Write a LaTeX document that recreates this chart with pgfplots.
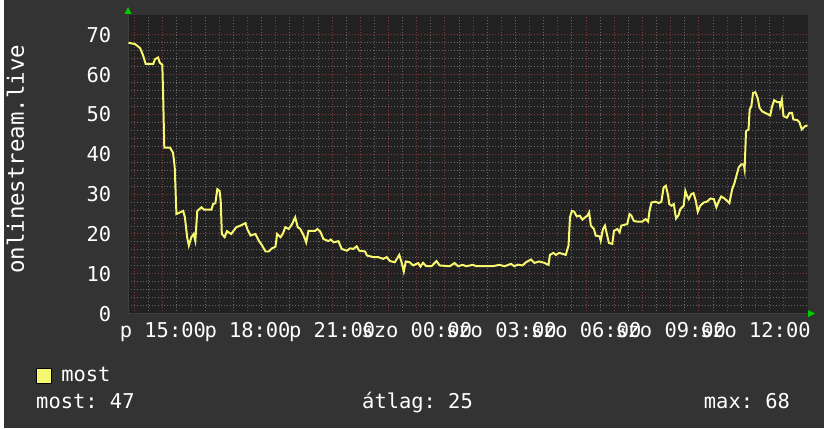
\documentclass[border=0pt]{standalone}
\usepackage{pgfplots}
\pgfplotsset{compat=1.18}
\usepackage{fontspec}
\setmainfont{DejaVu Sans Mono}
\definecolor{bgout}{HTML}{333333}
\definecolor{bgin}{HTML}{212121}
\definecolor{gridmin}{HTML}{686868}
\definecolor{gridmaj}{HTML}{8A3C3C}
\definecolor{axgray}{HTML}{3E3E3E}
\definecolor{lineyel}{HTML}{F8F870}
\definecolor{arrowgreen}{HTML}{00CC00}
\begin{document}
\frenchspacing
\fontsize{20.5bp}{24bp}\selectfont
\begin{tikzpicture}
\fill[bgout] (0bp,0bp) rectangle (824bp,430bp);
\begin{axis}[
  at={(125bp,115bp)}, anchor=south west,
  scale only axis, width=683bp, height=300bp,
  xmin=13.765, xmax=37.87, ymin=0, ymax=75,
  axis background/.style={fill=bgin},
  axis line style={draw=none},
  grid=both,
  major grid style={draw=gridmaj, dash pattern=on 1bp off 2bp, line width=1bp},
  minor grid style={draw=gridmin, dash pattern=on 1bp off 2bp, line width=1bp},
  major tick length=0pt, minor tick length=0pt,
  xtick={14,...,37},
  xticklabels={,p 15:00,,,p 18:00,,,p 21:00,,,szo 00:00,,,szo 03:00,,,szo 06:00,,,szo 09:00,,,szo 12:00,},
  minor x tick num=1,
  ytick={0,10,...,70},
  minor y tick num=4,
  /pgf/number format/assume math mode=true,
  tick label style={text=white},
  yticklabel style={xshift=-10bp},
  xticklabel style={yshift=-2bp},
  legend style={at={(axis description cs:-0.1362,-0.208)}, anchor=west, draw=none, fill=none, text=white, inner sep=0pt, nodes={inner sep=0bp}, column sep=10bp},
  legend image code/.code={\fill[lineyel,draw=black,line width=0.8bp] (0bp,-7.5bp) rectangle (15bp,7.5bp);},
]
\draw[axgray, line width=1.5bp] (rel axis cs:0,0) -- (rel axis cs:0,1);
\draw[axgray, line width=1bp] (rel axis cs:0,0) -- (rel axis cs:1,0);
\addplot[lineyel, line width=2bp] coordinates {
(13.78,68) (14.01,67.7) (14.19,66.7) (14.29,65) (14.39,62.7) (14.66,62.7) (14.72,63.9) (14.83,64.3) (14.89,63) (14.98,62.5)
(15.01,54.6) (15.05,41.7) (15.25,41.7) (15.36,40.4) (15.42,36.7) (15.48,25) (15.60,25.4) (15.72,25.8) (15.78,24.2) (15.86,19.2)
(15.92,17.1) (16.01,19.2) (16.09,20) (16.15,18.3) (16.22,25.8) (16.37,26.7) (16.46,26.1) (16.72,26.1) (16.78,27.5) (16.86,27.75)
(16.93,31.25) (17.01,30.8) (17.05,28.3) (17.09,20) (17.19,19.2) (17.27,20.7) (17.42,20) (17.60,21.7) (17.75,22.1) (17.93,22.75)
(17.99,21.25) (18.11,19.6) (18.28,20) (18.40,18.3) (18.52,17.1) (18.64,15.6) (18.75,15.6) (18.87,16.4) (18.99,16.8) (19.05,20)
(19.17,19.2) (19.25,20) (19.34,21.7) (19.46,21.25) (19.58,22.5) (19.69,24.2) (19.78,21.7) (19.87,21.25) (19.99,19.6) (20.08,17.9)
(20.16,20.8) (20.40,20.8) (20.48,21.25) (20.58,20.6) (20.69,18.75) (20.87,18.2) (20.95,18.6) (21.05,17.9) (21.22,18.2) (21.34,16.25)
(21.52,15.8) (21.64,16.4) (21.75,16.25) (21.87,16.9) (21.96,15.8) (22.17,15.6) (22.23,14.6) (22.46,14.2) (22.63,14.2) (22.81,13.75)
(22.93,14.2) (23.05,13.2) (23.22,12.9) (23.38,14.75) (23.46,12.9) (23.54,10.6) (23.61,13.1) (23.75,12.9) (23.87,12.1) (24.05,12.7)
(24.13,11.8) (24.22,12.75) (24.34,11.9) (24.52,11.9) (24.70,13.2) (24.81,12.1) (25.17,11.9) (25.34,12.7) (25.46,11.9) (25.63,12.25)
(25.75,11.9) (25.99,12.25) (26.11,11.9) (26.40,11.9) (26.69,11.9) (26.93,12.25) (27.11,11.9) (27.34,12.5) (27.46,11.9) (27.58,12.3)
(27.75,12.1) (27.87,12.9) (28.05,13.6) (28.17,12.75) (28.34,13.1) (28.52,12.75) (28.67,12.25) (28.72,14.75) (28.84,15.25) (28.93,14.75)
(29.05,15.25) (29.28,14.75) (29.38,17.1) (29.43,24.2) (29.50,25.8) (29.58,25.6) (29.67,24.4) (29.78,24.6) (29.87,23.6) (29.97,24.2)
(30.05,24.6) (30.11,25.4) (30.17,22.1) (30.28,21.25) (30.34,19.6) (30.48,19.4) (30.52,18.3) (30.60,21.25) (30.67,22.1) (30.75,19.6)
(30.81,17.75) (30.93,17.5) (30.99,20.8) (31.11,21.25) (31.19,20.4) (31.25,22.1) (31.46,22.5) (31.54,25) (31.61,24.6) (31.69,23.3)
(31.81,23.1) (31.99,23.1) (32.11,23.75) (32.20,23.1) (32.25,25.8) (32.32,27.9) (32.46,28.1) (32.58,27.75) (32.67,28.1) (32.75,31.7)
(32.83,32.1) (32.91,29.6) (32.95,27.5) (33.03,27.1) (33.11,27.5) (33.19,23.9) (33.28,24.75) (33.34,26.25) (33.46,27.1) (33.52,30.8)
(33.58,29.6) (33.64,28.75) (33.73,30) (33.81,30.25) (33.89,28.3) (33.96,25.6) (34.05,27.1) (34.17,27.9) (34.28,28.1) (34.41,28.9)
(34.53,28.75) (34.62,26.7) (34.71,28.3) (34.79,29.4) (34.91,28.9) (35.00,28.3) (35.08,27.75) (35.18,31.25) (35.26,32.75) (35.33,34.6)
(35.41,36.7) (35.50,37.5) (35.59,37.5) (35.62,36.25) (35.67,45.8) (35.76,46.25) (35.80,51.25) (35.86,52.1) (35.92,55.4) (36.00,55.6)
(36.08,54.2) (36.15,51.7) (36.24,50.8) (36.35,50.4) (36.53,49.75) (36.59,51.9) (36.67,53.6) (36.77,53.1) (36.86,53.1) (36.88,52.1)
(36.94,53.75) (37.00,49.6) (37.12,49.2) (37.21,50.4) (37.30,50.4) (37.35,48.75) (37.49,48.6) (37.56,48.1) (37.65,46.25) (37.77,47.1)
(37.85,47.25)
};
\addlegendentry{most}
\end{axis}
\fill[arrowgreen] (125bp,423bp) -- (121.5bp,416bp) -- (128.5bp,416bp) -- cycle;
\fill[arrowgreen] (815bp,115bp) -- (808bp,111.5bp) -- (808bp,118.5bp) -- cycle;
\node[text=white, rotate=90, anchor=center, font=\fontsize{22.5bp}{26bp}\selectfont] at (12bp,270bp) {onlinestream.live};
\node[text=white, anchor=base west, inner sep=0pt] at (32.6bp,20bp) {most: 47};
\node[text=white, anchor=base west, inner sep=0pt] at (360bp,20bp) {átlag: 25};
\node[text=white, anchor=base east, inner sep=0pt] at (790bp,20bp) {max: 68};
\end{tikzpicture}
\end{document}
